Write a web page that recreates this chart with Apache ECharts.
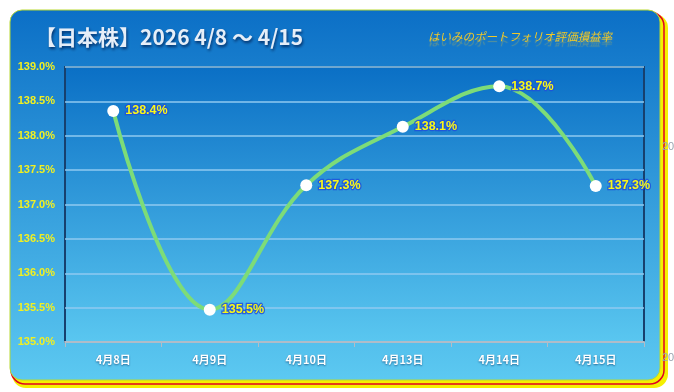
<!DOCTYPE html>
<html><head><meta charset="utf-8">
<script src="https://cdn.jsdelivr.net/npm/echarts@6/dist/echarts.min.js"></script>
<style>html,body{margin:0;padding:0;background:#fff}#c{width:674px;height:392px}</style>
</head><body><div id="c"></div>
<script>
const categories = ['4月8日','4月9日','4月10日','4月13日','4月14日','4月15日'];
const values = [138.36, 135.47, 137.28, 138.13, 138.72, 137.27];
const yMin = 135, yMax = 139, yStep = 0.5;
const titleText = '【日本株】2026 4/8 ～ 4/15';
const subtitleText = 'はいみのポートフォリオ評価損益率';

const chart = echarts.init(document.getElementById('c'));
const grad = (a,b)=>new echarts.graphic.LinearGradient(0,0,0,1,[{offset:0,color:a},{offset:1,color:b}]);
chart.setOption({
  backgroundColor:'#ffffff',
  graphic:[
    {type:'rect',z:-10,shape:{x:12,y:14,width:656,height:374,r:14},style:{fill:'#f5f000'},silent:true},
    {type:'rect',z:-9,shape:{x:11,y:12,width:653,height:372,r:14},style:{fill:'none',stroke:'#e00020',lineWidth:1.5},silent:true},
    {type:'rect',z:-8,shape:{x:10,y:10,width:650,height:370,r:12},style:{fill:grad('#0b6fc6','#5cc9f1'),stroke:'#b8d830',lineWidth:1},silent:true},
    {type:'text',z:10,left:35,top:27,style:{text:titleText,fill:'#e6eef8',font:'bold 21px "Noto Sans CJK JP", sans-serif',textShadowColor:'rgba(0,30,80,0.8)',textShadowBlur:3,textShadowOffsetX:1,textShadowOffsetY:2}},
    {type:'text',z:10,left:428,top:31,style:{text:subtitleText,fill:'#f0c828',font:'italic 11.5px "Noto Sans CJK JP", sans-serif',textShadowColor:'rgba(240,200,40,0.35)',textShadowBlur:1,textShadowOffsetY:5}},
    {type:'text',z:10,left:662,top:141,style:{text:'20',fill:'#9aa4b0',font:'11px sans-serif'}},
    {type:'text',z:10,left:662,top:352,style:{text:'20',fill:'#9aa4b0',font:'11px sans-serif'}}
  ],
  grid:{left:65,right:30,top:67,bottom:50,show:true,backgroundColor:grad('#0a6fc5','#5ac7f0'),borderColor:'#17406e',borderWidth:2},
  xAxis:{type:'category',data:categories,boundaryGap:true,
    axisLine:{lineStyle:{color:'#b0bcc8',width:2}},
    axisTick:{show:true,length:5,lineStyle:{color:'#b0bcc8'}},
    axisLabel:{color:'#ffffff',fontSize:11,fontWeight:'bold',margin:12,fontFamily:'"Noto Sans CJK JP", sans-serif',textShadowColor:'rgba(0,40,90,0.6)',textShadowBlur:2,textShadowOffsetY:1}},
  yAxis:{type:'value',min:yMin,max:yMax,interval:yStep,
    axisLine:{show:false},axisTick:{show:false},
    splitLine:{lineStyle:{color:'#8fcaf0',width:1.5}},
    axisLabel:{color:'#f2f020',fontSize:11,fontWeight:'bold',margin:10,fontFamily:'"Liberation Sans", Arial, sans-serif',formatter:v=>v.toFixed(1)+'%'}},
  series:[{type:'line',data:values,smooth:0.4,symbol:'circle',symbolSize:12,
    lineStyle:{color:'#7ddc78',width:4},
    itemStyle:{color:'#ffffff',borderWidth:0},
    label:{show:true,position:'right',distance:6,color:'#f8f818',fontSize:12.5,fontWeight:'bold',fontFamily:'"Liberation Sans", Arial, sans-serif',
      textBorderColor:'rgba(30,80,220,0.85)',textBorderWidth:2.5,formatter:p=>p.value.toFixed(1)+'%'}}]
});
</script></body></html>
